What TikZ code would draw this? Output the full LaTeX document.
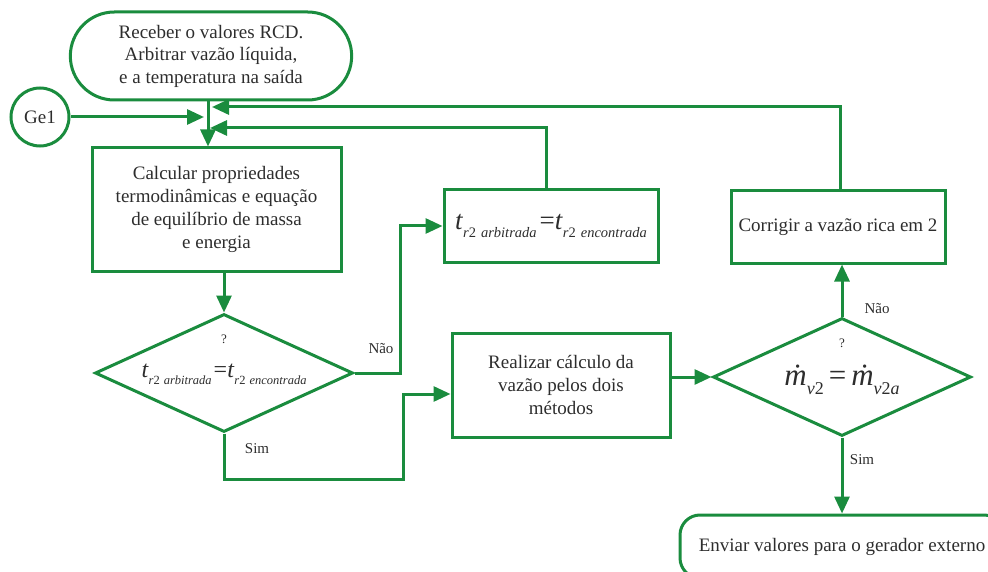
\documentclass[tikz,border=0pt]{standalone}
\usepackage{fontspec}
\setmainfont{Liberation Serif}
\usetikzlibrary{
  arrows.meta,
  positioning,
  shapes.geometric,
  shapes.misc,
}
\definecolor{flowgreen}{RGB}{26,140,62}
\definecolor{ink}{RGB}{45,45,45}
% italic symbol with a lowered small subscript
\newcommand{\subvar}[3]{\textit{#1}\raisebox{-0.3em}{\fontsize{#3}{#3}\selectfont #2}}

\begin{document}
\begin{tikzpicture}[x=1pt,y=-1pt,>={Triangle[length=17pt,width=15pt]}]%
\tikzstyle{term}=[rounded rectangle,draw=flowgreen,line width=3pt,align=center,text=ink,font=\fontsize{19}{22.5}\selectfont]
\tikzstyle{proc}=[rectangle,draw=flowgreen,line width=3pt,align=center,text=ink,inner sep=0pt,font=\fontsize{19}{23}\selectfont]
\tikzstyle{test}=[diamond,draw=flowgreen,line width=3pt,minimum width=258pt,minimum height=118pt,inner sep=0pt]
\tikzstyle{tag}=[text=ink,font=\fontsize{15}{18}\selectfont]
\tikzstyle{link}=[draw=flowgreen,line width=3pt,->]
\useasboundingbox (0,0) rectangle (988,572);
\clip (0,0) rectangle (988,572);
\node[term,minimum width=288pt,minimum height=88pt] (start) at (211,56) {Receber o valores RCD.\\Arbitrar vazão líquida,\\e a temperatura na saída};
\node[circle,draw=flowgreen,line width=3pt,minimum size=58pt,inner sep=0pt,text=ink,font=\fontsize{19}{22}\selectfont] (ge1) at (40,117) {Ge1};
\node[proc,minimum width=249pt,minimum height=123pt,below=45pt of start,xshift=5.5pt] (calc) {Calcular propriedades\\termodinâmicas e equação\\de equilíbrio de massa\\e energia};
\node[test,below=40pt of calc,xshift=7.5pt] (d1) {};
\node[text=ink,font=\fontsize{13}{15}\selectfont] (q1) at ([yshift=34pt]d1.center) {?};
\node[text=ink,font=\fontsize{24}{28}\selectfont] (eq1) at ([yshift=-1pt]d1.center) {\subvar{t}{\textit{r}2\hspace{4pt}\textit{arbitrada}}{12.5}\hspace{2pt}=\subvar{t}{\textit{r}2\hspace{4pt}\textit{encontrada}}{12.5}};
\node[proc,minimum width=214pt,minimum height=72pt,font=\fontsize{27}{30}\selectfont] (tbox) at (551,226) {\subvar{t}{\textit{r}2\hspace{5pt}\textit{arbitrada}}{14.5}\hspace{3pt}=\subvar{t}{\textit{r}2\hspace{5pt}\textit{encontrada}}{14.5}};
\node[proc,minimum width=218pt,minimum height=104pt] (real) at (561,385) {Realizar cálculo da\\vazão pelos dois\\métodos};
\node[test,right=40pt of real,yshift=8pt] (d2) {};
\node[text=ink,font=\fontsize{13}{15}\selectfont] (q2) at ([yshift=34pt]d2.center) {?};
\node[text=ink,font=\fontsize{31}{34}\selectfont] (eq2) at ([yshift=-3pt]d2.center) {\subvar{ṁ}{\textit{v}2}{18}\hspace{5pt}=\hspace{5pt}\subvar{ṁ}{\textit{v}2\textit{a}}{18}};
\node[proc,minimum width=214pt,minimum height=72pt,above=52pt of d2,xshift=-4pt] (corr) {Corrigir a vazão rica em 2};
\node[proc,rounded corners=20pt,minimum width=324pt,minimum height=63pt,below=76pt of d2] (done) {Enviar valores para o gerador externo};
\node[tag] (no1) at (381,349) {Não};
\node[tag] (yes1) at (257,449) {Sim};
\node[tag] (no2) at (877,309) {Não};
\node[tag] (yes2) at (862,460) {Sim};
% merge point above the first box
\coordinate (jn) at (208,128);
\coordinate (in0) at (204,117);
\coordinate (in1) at (212,107);
\coordinate (in2) at (210,128);
\draw[link] (start.south -| jn) -- (calc.north -| jn);
\draw[link] (ge1) -- (in0);
\draw[link] ([xshift=-5pt]tbox.north) |- (in2);
\draw[link] ([xshift=2pt]corr.north) |- (in1);
\draw[link] (calc.south -| d1.north) -- (d1.north);
\draw[link] (d1.east) -- ++(46,0) |- (tbox.west);
\draw[link] (d1.south) |- ++(179,46) |- ([yshift=-9pt]real.west);
\draw[link] (real.east |- d2.west) -- (d2.west);
\draw[link] (d2.north) -- (d2.north |- corr.south);
\draw[link] (d2.south) -- (d2.south |- done.north);
\end{tikzpicture}
\end{document}
